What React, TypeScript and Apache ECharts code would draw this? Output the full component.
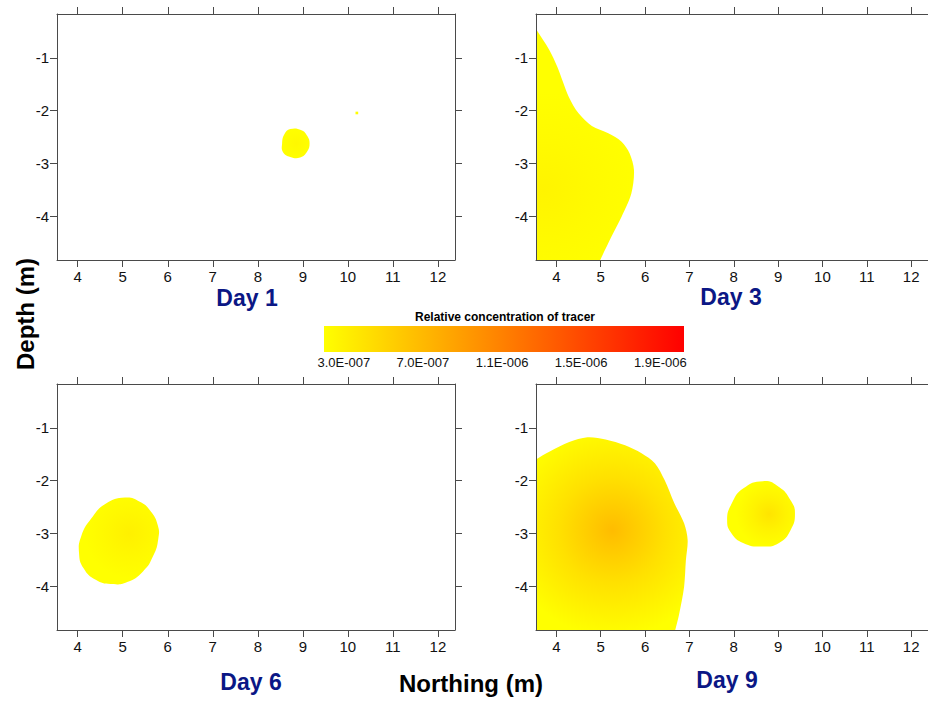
import React, { useEffect, useRef } from "react";
import * as echarts from "echarts";

// Axis ranges and tick labels
const X_MIN = 3.54;
const X_MAX = 12.38;
const Y_MIN = -4.83;
const Y_MAX = -0.17;
const X_TICKS = [4, 5, 6, 7, 8, 9, 10, 11, 12];
const Y_TICKS = [-4, -3, -2, -1];

// Colour bar
const CB_MIN = 2.0e-7;
const CB_MAX = 2.02e-6;
const CB_TICKS = [3.0e-7, 7.0e-7, 1.1e-6, 1.5e-6, 1.9e-6];
const CB_TITLE = "Relative concentration of tracer";

const PANEL_TITLES = ["Day 1", "Day 3", "Day 6", "Day 9"];

// Plume outlines (Northing, Depth), peak location, peak concentration, falloff radius (m)
type Plume = { xs: number[]; ys: number[]; peak: number[]; value: number; radius: number; smooth: number };

const day1Plumes: Plume[] = [
  {
    xs: [8.72, 8.97, 9.1, 9.15, 9.1, 8.94, 8.72, 8.56, 8.54, 8.59],
    ys: [-2.35, -2.37, -2.48, -2.62, -2.77, -2.89, -2.88, -2.79, -2.62, -2.45],
    peak: [8.85, -2.62],
    value: 2.5e-7,
    radius: 0.35,
    smooth: 0.45,
  },
  {
    xs: [10.17, 10.23, 10.23, 10.17],
    ys: [-2.02, -2.02, -2.07, -2.07],
    peak: [10.2, -2.04],
    value: 2.1e-7,
    radius: 0.05,
    smooth: 0,
  },
];

const day3Plumes: Plume[] = [
  {
    xs: [3.3, 3.53, 3.84, 4.02, 4.28, 4.5, 4.8, 5.17, 5.47, 5.65, 5.75, 5.69, 5.47, 5.24, 4.99, 4.88, 3.3],
    ys: [-0.1, -0.44, -0.85, -1.17, -1.74, -2.05, -2.29, -2.43, -2.59, -2.81, -3.13, -3.57, -4.01, -4.39, -4.83, -5.05, -5.05],
    peak: [3.7, -3.5],
    value: 2.8e-7,
    radius: 2.2,
    smooth: 0.3,
  },
];

const day6Plumes: Plume[] = [
  {
    xs: [5.05, 5.38, 5.62, 5.78, 5.79, 5.68, 5.45, 5.1, 4.73, 4.4, 4.13, 4.03, 4.08, 4.3, 4.62],
    ys: [-2.32, -2.4, -2.58, -2.85, -3.1, -3.42, -3.72, -3.92, -3.96, -3.88, -3.66, -3.38, -3.05, -2.72, -2.44],
    peak: [5.15, -3.0],
    value: 3.1e-7,
    radius: 1.0,
    smooth: 0.5,
  },
];

const day9Plumes: Plume[] = [
  {
    xs: [3.3, 3.54, 3.85, 4.29, 4.7, 5.11, 5.55, 5.92, 6.22, 6.44, 6.66, 6.88, 6.96, 6.92, 6.88, 6.77, 6.68, 6.62, 3.3],
    ys: [-1.75, -1.6, -1.45, -1.27, -1.18, -1.22, -1.33, -1.48, -1.67, -1.99, -2.43, -2.81, -3.13, -3.51, -4.01, -4.52, -4.83, -5.05, -5.05],
    peak: [5.26, -2.94],
    value: 6.8e-7,
    radius: 2.4,
    smooth: 0.3,
  },
  {
    xs: [8.66, 9.02, 9.28, 9.38, 9.28, 9.02, 8.62, 8.21, 7.95, 7.85, 7.95, 8.21],
    ys: [-2.01, -2.12, -2.37, -2.62, -2.94, -3.18, -3.25, -3.18, -3.0, -2.75, -2.44, -2.15],
    peak: [8.8, -2.63],
    value: 3.9e-7,
    radius: 0.75,
    smooth: 0.5,
  },
];

const PANELS = [day1Plumes, day3Plumes, day6Plumes, day9Plumes];

// Layout (pixels)
const GRIDS = [
  { left: 57, top: 14, width: 398, height: 246 },
  { left: 536, top: 14, width: 398, height: 246 },
  { left: 57, top: 384, width: 398, height: 246 },
  { left: 536, top: 384, width: 398, height: 246 },
];
const CB_GRID = { left: 324, top: 326, width: 360, height: 26 };
const TITLE_POS = [
  [247, 298],
  [731, 297],
  [251, 682],
  [727, 680],
];

const FRAME = "#4a4a4a";
const TICK_FONT = "'Liberation Sans Narrow', 'Arial Narrow', 'Liberation Sans', Arial, sans-serif";
const FONT = "'Liberation Sans', Arial, Helvetica, sans-serif";
const NAVY = "#0b1785";

function colorFor(v: number): string {
  let t = (v - CB_MIN) / (CB_MAX - CB_MIN);
  t = Math.max(0, Math.min(1, t));
  const g = Math.round(255 * (1 - t));
  return `rgb(255,${g},0)`;
}

function fmtSci(v: number): string {
  const e = Math.floor(Math.log10(v) + 1e-9);
  const m = v / Math.pow(10, e);
  return `${m.toFixed(1)}E${e < 0 ? "-" : "+"}${String(Math.abs(e)).padStart(3, "0")}`;
}

export default function App() {
  const ref = useRef<HTMLDivElement>(null);

  useEffect(() => {
    if (!ref.current) return;
    const chart = echarts.init(ref.current, undefined, { renderer: "svg" });

    const xAxis: any[] = [];
    const yAxis: any[] = [];
    const series: any[] = [];

    GRIDS.forEach((_, gi) => {
      const common = {
        gridIndex: gi,
        type: "value",
        z: 5,
        axisLine: { show: true, onZero: false, lineStyle: { color: FRAME, width: 1 } },
        splitLine: { show: false },
      };
      xAxis.push({
        ...common,
        position: "bottom",
        min: X_MIN,
        max: X_MAX,
        axisTick: { show: true, inside: false, length: 7, customValues: X_TICKS, lineStyle: { color: FRAME } },
        axisLabel: { customValues: X_TICKS, fontSize: 15, color: "#111", fontFamily: TICK_FONT, margin: 9 },
      });
      xAxis.push({
        ...common,
        position: "top",
        min: X_MIN,
        max: X_MAX,
        axisTick: { show: true, inside: false, length: 7, customValues: X_TICKS, lineStyle: { color: FRAME } },
        axisLabel: { show: false },
      });
      yAxis.push({
        ...common,
        position: "left",
        min: Y_MIN,
        max: Y_MAX,
        axisTick: { show: true, inside: false, length: 7, customValues: Y_TICKS, lineStyle: { color: FRAME } },
        axisLabel: { customValues: Y_TICKS, fontSize: 15, color: "#111", fontFamily: TICK_FONT, margin: 8 },
      });
      yAxis.push({
        ...common,
        position: "right",
        min: Y_MIN,
        max: Y_MAX,
        axisTick: { show: true, inside: false, length: 7, customValues: Y_TICKS, lineStyle: { color: FRAME } },
        axisLabel: { show: false },
      });

      const plumes = PANELS[gi];
      series.push({
        type: "custom",
        xAxisIndex: gi * 2,
        yAxisIndex: gi * 2,
        clip: true,
        z: 2,
        silent: true,
        data: plumes.map((p) => p.peak),
        renderItem: (params: any, api: any) => {
          const p = plumes[params.dataIndex];
          const pts = p.xs.map((x, i) => api.coord([x, p.ys[i]]));
          const c = api.coord(p.peak);
          const r = Math.max(1, api.size([p.radius, 0])[0]);
          const mid = CB_MIN + (p.value - CB_MIN) * 0.45;
          return {
            type: "polygon",
            shape: { points: pts, smooth: p.smooth },
            style: {
              fill: {
                type: "radial",
                x: c[0],
                y: c[1],
                r,
                global: true,
                colorStops: [
                  { offset: 0, color: colorFor(p.value) },
                  { offset: 0.5, color: colorFor(mid) },
                  { offset: 1, color: colorFor(CB_MIN) },
                ],
              },
              stroke: null,
            },
          };
        },
      });
    });

    // colour bar grid
    xAxis.push({
      gridIndex: 4,
      type: "value",
      min: CB_MIN,
      max: CB_MAX,
      position: "bottom",
      axisLine: { show: false },
      axisTick: { show: false },
      splitLine: { show: false },
      axisLabel: {
        customValues: CB_TICKS,
        fontSize: 13,
        color: "#111",
        fontFamily: FONT,
        margin: 4,
        formatter: (v: number) => fmtSci(v),
      },
    });
    yAxis.push({
      gridIndex: 4,
      type: "value",
      min: 0,
      max: 1,
      show: false,
    });
    series.push({
      type: "custom",
      xAxisIndex: 8,
      yAxisIndex: 8,
      silent: true,
      data: [[CB_MIN, 0]],
      renderItem: (_params: any, api: any) => {
        const p0 = api.coord([CB_MIN, 0]);
        const p1 = api.coord([CB_MAX, 1]);
        return {
          type: "rect",
          shape: { x: p0[0], y: p1[1], width: p1[0] - p0[0], height: p0[1] - p1[1] },
          style: {
            fill: {
              type: "linear",
              x: 0,
              y: 0,
              x2: 1,
              y2: 0,
              colorStops: [
                { offset: 0, color: colorFor(CB_MIN) },
                { offset: 1, color: colorFor(CB_MAX) },
              ],
            },
          },
        };
      },
    });

    const graphic: any[] = [
      {
        type: "text",
        x: 25,
        y: 314,
        rotation: Math.PI / 2,
        style: {
          text: "Depth (m)",
          fontSize: 24,
          fontWeight: "bold",
          fontFamily: FONT,
          fill: "#000",
          align: "center",
          verticalAlign: "middle",
        },
      },
      {
        type: "text",
        x: 471,
        y: 683,
        style: {
          text: "Northing (m)",
          fontSize: 24,
          fontWeight: "bold",
          fontFamily: FONT,
          fill: "#000",
          align: "center",
          verticalAlign: "middle",
        },
      },
      {
        type: "text",
        x: 505,
        y: 317,
        style: {
          text: CB_TITLE,
          fontSize: 12,
          fontWeight: "bold",
          fontFamily: FONT,
          fill: "#000",
          align: "center",
          verticalAlign: "middle",
        },
      },
      ...PANEL_TITLES.map((t, i) => ({
        type: "text",
        x: TITLE_POS[i][0],
        y: TITLE_POS[i][1],
        style: {
          text: t,
          fontSize: 23,
          fontWeight: "bold",
          fontFamily: FONT,
          fill: NAVY,
          align: "center",
          verticalAlign: "middle",
        },
      })),
    ];

    chart.setOption({
      animation: false,
      backgroundColor: "#fff",
      grid: [...GRIDS, CB_GRID].map((g) => ({ ...g, containLabel: false })),
      xAxis,
      yAxis,
      series,
      graphic,
    });

    return () => chart.dispose();
  }, []);

  return (
    <div
      ref={ref}
      style={{ position: "absolute", left: 0, top: 0, width: 928, height: 702 }}
    />
  );
}
